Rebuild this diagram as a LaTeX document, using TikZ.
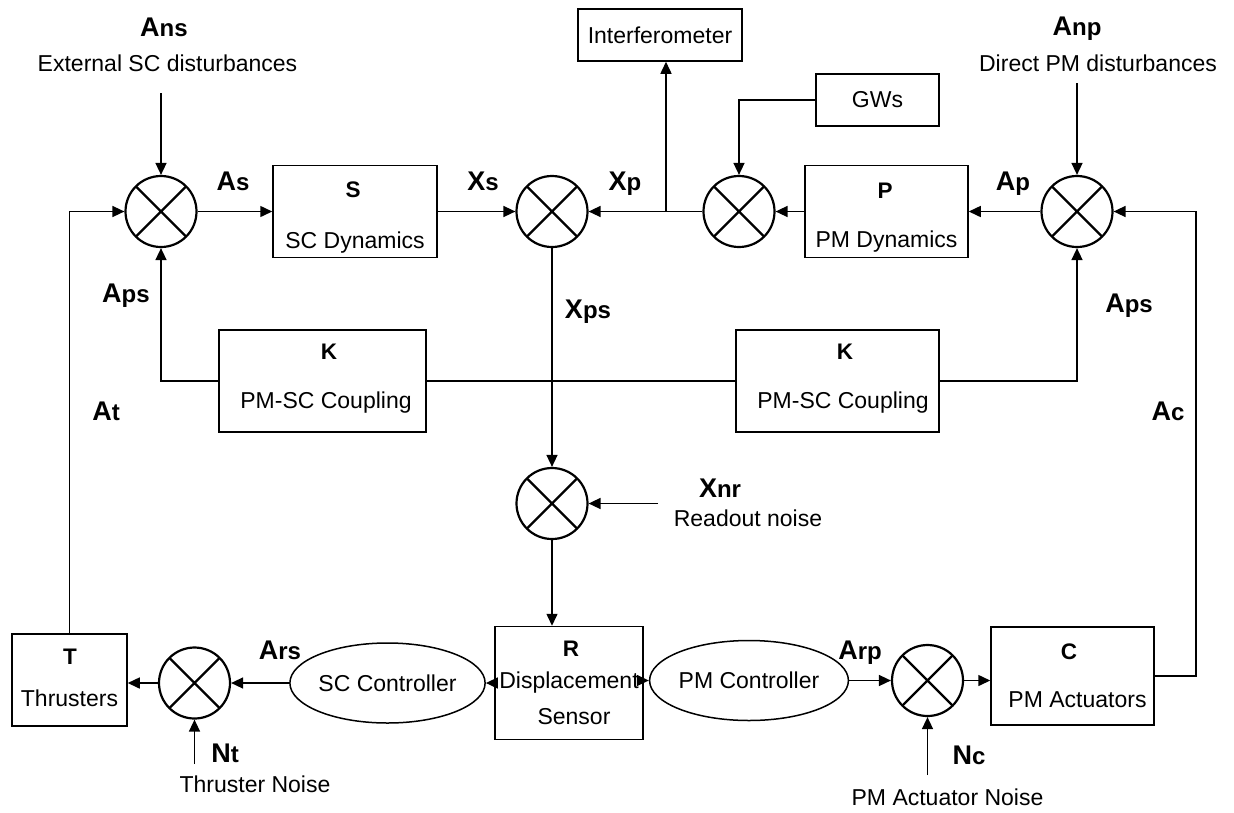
\documentclass[tikz,border=0pt]{standalone}
\usepackage{fontspec}
\setmainfont{Liberation Sans}
\usetikzlibrary{arrows.meta,shapes.geometric,calc}
\newcommand\lab[2]{{\fontsize{27}{30}\selectfont\bfseries #1}{\fontsize{24}{28}\selectfont\bfseries #2}}
\tikzset{
  conn/.style={line width=1.5pt},
  arr/.style={conn,-{Triangle[length=12pt,width=11pt]}},
  blk/.style={draw,line width=1.5pt,rectangle,inner sep=0pt,font=\fontsize{23}{27}\selectfont},
  sumj/.style={circle,draw,line width=2.2pt,minimum size=71pt,inner sep=0pt,
     path picture={\draw[line width=2.2pt] (path picture bounding box.south west) -- (path picture bounding box.north east) (path picture bounding box.north west) -- (path picture bounding box.south east);}},
  ell/.style={ellipse,draw,line width=1.5pt,minimum width=162pt,minimum height=80pt,inner sep=0pt,font=\fontsize{23}{27}\selectfont},
  txt/.style={font=\fontsize{23}{27}\selectfont,inner sep=0pt,anchor=base},
  ttl/.style={font=\fontsize{22.5}{26}\selectfont\bfseries,inner sep=0pt,anchor=base},
  sym/.style={inner sep=0pt,anchor=base},
}
\begin{document}
\begin{tikzpicture}[x=1pt,y=-1pt]
\useasboundingbox (0,0) rectangle (1234,812);
\fill[white] (0,0) rectangle (1234,812);
% blocks
\node[sumj] (sL) at (161,211.5) {};
\node[blk,minimum width=164pt,minimum height=92pt] (S) at (355,211.5) {};
\node[sumj] (sM) at (552,211.5) {};
\node[sumj] (sG) at (739,211.5) {};
\node[blk,minimum width=163pt,minimum height=92pt] (P) at (886.5,211.5) {};
\node[sumj] (sR) at (1077,211.5) {};
\node[blk,minimum width=164pt,minimum height=52pt] (IF) at (660,35) {Interferometer};
\node[blk,minimum width=123pt,minimum height=52pt] (GW) at (877.5,100) {GWs};
\node[blk,minimum width=207pt,minimum height=102pt] (K1) at (322.5,381) {};
\node[blk,minimum width=203pt,minimum height=102pt] (K2) at (837.5,381) {};
\node[sumj] (sN) at (552,503.5) {};
\node[blk,minimum width=148pt,minimum height=113pt] (R) at (569,683) {};
\node[ell] (SCc) at (387.5,683) {SC Controller};
\node[ell] (PMc) at (749,680.5) {PM Controller};
\node[sumj] (sT) at (194.5,683) {};
\node[blk,minimum width=115pt,minimum height=92pt] (T) at (69.5,680) {};
\node[sumj] (sC) at (927.5,680.5) {};
\node[blk,minimum width=163pt,minimum height=98pt] (C) at (1072.5,676) {};
% free ends
\coordinate (ansin) at (161,93);
\coordinate (anpin) at (1077,83);
\coordinate (jn) at (666,211.5);
\coordinate (xnrin) at (658,503.5);
\coordinate (ntin) at (194.5,764);
\coordinate (ncin) at (927.5,775);
\coordinate (cr) at (1196,676);
% connectors
\draw[arr] (ansin) -- (sL.north);
\draw[arr] (sL.east) -- (S.west);
\draw[arr] (S.east) -- (sM.west);
\draw[arr] (sG.west) -- (sM.east);
\draw[arr] (jn) -- (jn |- IF.south);
\draw[arr] (GW.west) -| (sG.north);
\draw[arr] (P.west) -- (sG.east);
\draw[arr] (sR.west) -- (P.east);
\draw[arr] (anpin) -- (sR.north);
\draw[arr] (C.east) -- (cr) |- (sR.east);
\draw[arr] (K1.west) -| (sL.south);
\draw[arr] (K2.east) -| (sR.south);
\draw[conn] (K1.east) -- (K2.west);
\draw[arr] (sM.south) -- (sN.north);
\draw[arr] (xnrin) -- (sN.east);
\draw[arr] (sN.south) -- (sN.south |- R.north);
\draw[arr] (R.west |- SCc) -- (SCc.east);
\draw[arr] (R.east |- PMc) -- (PMc.west);
\draw[arr] (SCc.west) -- (sT.east);
\draw[arr] (sT.west) -- (sT -| T.east);
\draw[arr] (ntin) -- (sT.south);
\draw[arr] (T.north) |- (sL.west);
\draw[arr] (PMc.east) -- (sC.west);
\draw[arr] (sC.east) -- (sC.east -| C.west);
\draw[arr] (ncin) -- (sC.south);
% signal labels
\node[sym] (lAns) at (164,36) {\lab{A}{ns}};
\node[txt] (tExt) at (167.5,71) {External SC disturbances};
\node[sym] (lAs) at (233,190) {\lab{A}{s}};
\node[sym] (lXs) at (483,190) {\lab{X}{s}};
\node[sym] (lXp) at (625,190) {\lab{X}{p}};
\node[sym] (lAp) at (1013,190) {\lab{A}{p}};
\node[sym] (lAnp) at (1077,35) {\lab{A}{np}};
\node[txt] (tDir) at (1098,71) {Direct PM disturbances};
\node[sym] (lAps1) at (126,302) {\lab{A}{ps}};
\node[sym] (lXps) at (588,318) {\lab{X}{ps}};
\node[sym] (lAps2) at (1129,312) {\lab{A}{ps}};
\node[sym] (lAt) at (106,420) {\lab{A}{t}};
\node[sym] (lAc) at (1168,420) {\lab{A}{c}};
\node[sym] (lXnr) at (720,497) {\lab{X}{nr}};
\node[txt] (tRd) at (748,526) {Readout noise};
\node[sym] (lArs) at (280,659) {\lab{A}{rs}};
\node[sym] (lNt) at (225,762) {\lab{N}{t}};
\node[txt] (tTN) at (255,792) {Thruster Noise};
\node[sym] (lArp) at (860,659) {\lab{A}{rp}};
\node[sym] (lNc) at (969,764) {\lab{N}{c}};
\node[txt] (tPAN) at (947.5,805) {PM Actuator Noise};
% block texts
\node[ttl] (tS) at (353,197) {S};
\node[txt] (dS) at (355,248) {SC Dynamics};
\node[ttl] (tP) at (885,198) {P};
\node[txt] (dP) at (886.5,247) {PM Dynamics};
\node[ttl] (tK1) at (329,359) {K};
\node[txt] (dK1) at (326,408) {PM-SC Coupling};
\node[ttl] (tK2) at (845,359) {K};
\node[txt] (dK2) at (843,408) {PM-SC Coupling};
\node[ttl] (tT) at (70,664) {T};
\node[txt] (dT) at (69.5,706) {Thrusters};
\node[ttl] (tR) at (571,656) {R};
\node[txt] (dR1) at (569,688) {Displacement};
\node[txt] (dR2) at (574,724) {Sensor};
\node[ttl] (tC) at (1069,659) {C};
\node[txt] (dC) at (1077.5,707) {PM Actuators};
\end{tikzpicture}
\end{document}
